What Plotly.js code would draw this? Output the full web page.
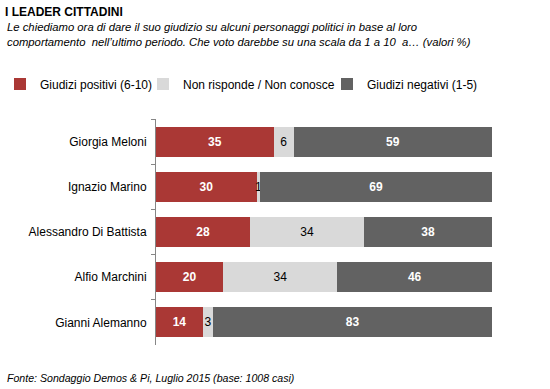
<!DOCTYPE html>
<html>
<head>
<meta charset="utf-8">
<script src="https://cdn.plot.ly/plotly-3.0.1.min.js"></script>
<style>html,body{margin:0;padding:0;background:#fff;}#chart{width:550px;height:389px;}</style>
</head>
<body>
<div id="chart"></div>
<script>
const categories = ['Giorgia Meloni', 'Ignazio Marino', 'Alessandro Di Battista', 'Alfio Marchini', 'Gianni Alemanno'];
const positivi = [35, 30, 28, 20, 14];
const nonRisponde = [6, 1, 34, 34, 3];
const negativi = [59, 69, 38, 46, 83];
const seriesNames = ['Giudizi positivi (6-10)', 'Non risponde / Non conosce', 'Giudizi negativi (1-5)'];

const FONT = 'Arial, "Liberation Sans", sans-serif';

function barTrace(vals, name, color, textColor, weight, legendId) {
  return {
    type: 'bar', orientation: 'h',
    y: categories, x: vals, name: name,
    marker: {color: color, line: {width: 0}},
    text: vals.map(String),
    textposition: 'inside', insidetextanchor: 'middle',
    textfont: {family: FONT, size: 12, color: textColor, weight: weight},
    constraintext: 'none',
    hoverinfo: 'skip',
    showlegend: true,
    legend: legendId
  };
}

const data = [
  barTrace(positivi, seriesNames[0], '#aa3835', '#ffffff', 700, 'legend'),
  barTrace(nonRisponde, seriesNames[1], '#d9d9d9', '#000000', 400, 'legend2'),
  barTrace(negativi, seriesNames[2], '#626262', '#ffffff', 700, 'legend3')
];

function leg(x) {
  return {xref: 'container', yref: 'container', x: x, y: 1 - 84/389,
          xanchor: 'left', yanchor: 'middle', orientation: 'h',
          bgcolor: 'rgba(0,0,0,0)', borderwidth: 0, visible: true,
          font: {family: FONT, size: 12, color: '#000'}};
}

const layout = {
  width: 550, height: 389,
  showlegend: true,
  paper_bgcolor: '#ffffff', plot_bgcolor: '#ffffff',
  font: {family: FONT, size: 12, color: '#000'},
  barmode: 'stack', bargap: 0.336,
  margin: {l: 156, r: 58, t: 119, b: 44, autoexpand: false},
  title: {
    text: '<b>I LEADER CITTADINI</b>',
    x: 5/550, xanchor: 'left', xref: 'container',
    y: 1 - 12/389, yanchor: 'middle', yref: 'container',
    font: {family: FONT, size: 12, color: '#000'}
  },
  xaxis: {range: [0, 100], visible: false, fixedrange: true},
  yaxis: {
    type: 'category', autorange: 'reversed',
    showline: true, linecolor: '#868686', linewidth: 1,
    ticks: 'outside', tickson: 'boundaries', ticklen: 4, tickcolor: '#868686',
    showgrid: false, zeroline: false,
    tickfont: {family: FONT, size: 12, color: '#000'},
    ticklabelstandoff: 6, fixedrange: true
  },
  uniformtext: {mode: 'show', minsize: 12},
  legend: leg(-4/550),
  legend2: leg(143/550),
  legend3: leg(327/550),
  annotations: [{
    text: '<i>Le chiediamo ora di dare il suo giudizio su alcuni personaggi politici in base al loro<br>comportamento  nell\u2019ultimo periodo. Che voto darebbe su una scala da 1 a 10  a\u2026 (valori %)</i>',
    xref: 'paper', yref: 'paper', x: -151/336, y: 1 + (119 - 34.5)/226,
    xanchor: 'left', yanchor: 'middle', align: 'left', showarrow: false,
    font: {family: FONT, size: 11.3, color: '#000'}
  }, {
    text: '<i>Fonte: Sondaggio Demos & Pi, Luglio 2015 (base: 1008 casi)</i>',
    xref: 'paper', yref: 'paper', x: -151/336, y: -33/226,
    xanchor: 'left', yanchor: 'middle', showarrow: false,
    font: {family: FONT, size: 10.6, color: '#000'}
  }]
};

Plotly.newPlot('chart', data, layout, {displayModeBar: false, staticPlot: true});
</script>
</body>
</html>
